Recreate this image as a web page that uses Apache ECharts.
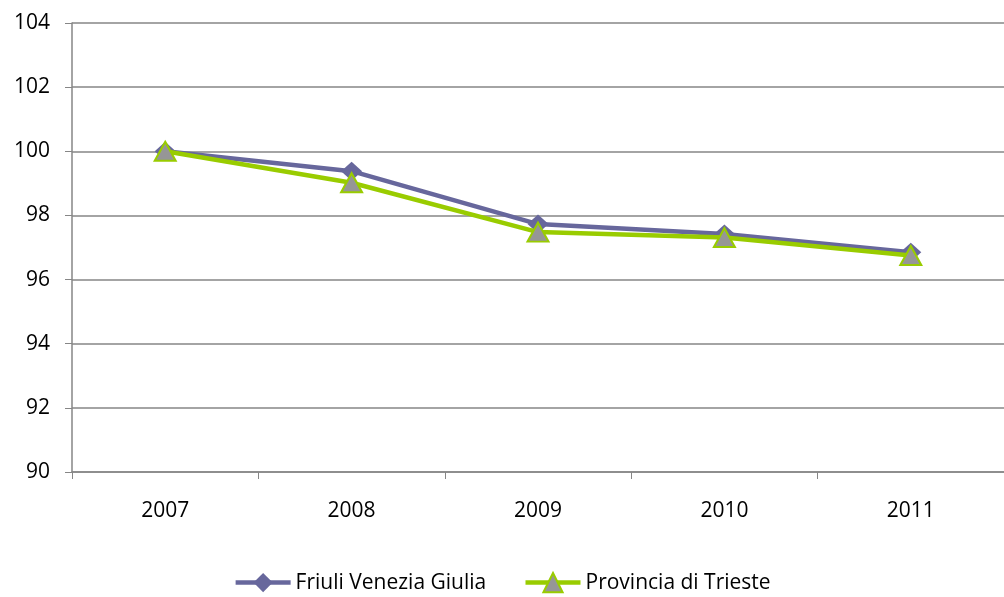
<!DOCTYPE html>
<html>
<head>
<meta charset="utf-8">
<script src="https://cdn.jsdelivr.net/npm/echarts@6/dist/echarts.min.js"></script>
<style>
  html, body { margin: 0; padding: 0; background: #fff; }
  #chart { width: 1004px; height: 597px; }
</style>
</head>
<body>
<div id="chart"></div>
<script>
// dati
var anni = ['2007', '2008', '2009', '2010', '2011'];
var friuli = [100, 99.38, 97.73, 97.42, 96.85];   // Friuli Venezia Giulia
var trieste = [100, 99.02, 97.48, 97.31, 96.75];  // Provincia di Trieste
var yTicks = [90, 92, 94, 96, 98, 100, 102, 104];

var viola = '#67679c';
var verde = '#99cc00';
var grigio = '#868686';
var font = 'Open Sans';

var chart = echarts.init(document.getElementById('chart'));

chart.setOption({
    animation: false,
    backgroundColor: '#fff',
    textStyle: { fontFamily: font },
    grid: { left: 72, top: 23, width: 943, height: 449 },
    legend: {
        top: 567,
        left: 'center',
        itemWidth: 55,
        itemHeight: 24,
        itemGap: 37,
        lineStyle: { width: 4.5 },
        textStyle: { fontSize: 21, color: '#000', fontFamily: font },
        data: ['Friuli Venezia Giulia', 'Provincia di Trieste']
    },
    xAxis: {
        type: 'category',
        data: anni,
        boundaryGap: true,
        axisLine: { lineStyle: { color: grigio, width: 1.5 } },
        axisTick: { show: true, length: 7, lineStyle: { color: grigio } },
        axisLabel: { fontSize: 21, color: '#000', margin: 29 }
    },
    yAxis: {
        type: 'value',
        min: yTicks[0],
        max: yTicks[yTicks.length - 1],
        interval: 2,
        axisLine: { show: true, lineStyle: { color: grigio, width: 1.5 } },
        axisTick: { show: true, length: 7, lineStyle: { color: grigio } },
        axisLabel: { fontSize: 21, color: '#000', margin: 22 },
        splitLine: { lineStyle: { color: grigio, width: 1.5 } }
    },
    series: [
        {
            name: 'Friuli Venezia Giulia',
            type: 'line',
            data: friuli,
            symbol: 'diamond',
            symbolSize: [21, 19],
            itemStyle: { color: viola },
            lineStyle: { color: viola, width: 4.5 },
            z: 2
        },
        {
            name: 'Provincia di Trieste',
            type: 'line',
            data: trieste,
            symbol: 'triangle',
            symbolSize: [21, 19],
            itemStyle: { color: '#969696', borderColor: verde, borderWidth: 2 },
            lineStyle: { color: verde, width: 4.5 },
            z: 3
        }
    ]
});
</script>
</body>
</html>
